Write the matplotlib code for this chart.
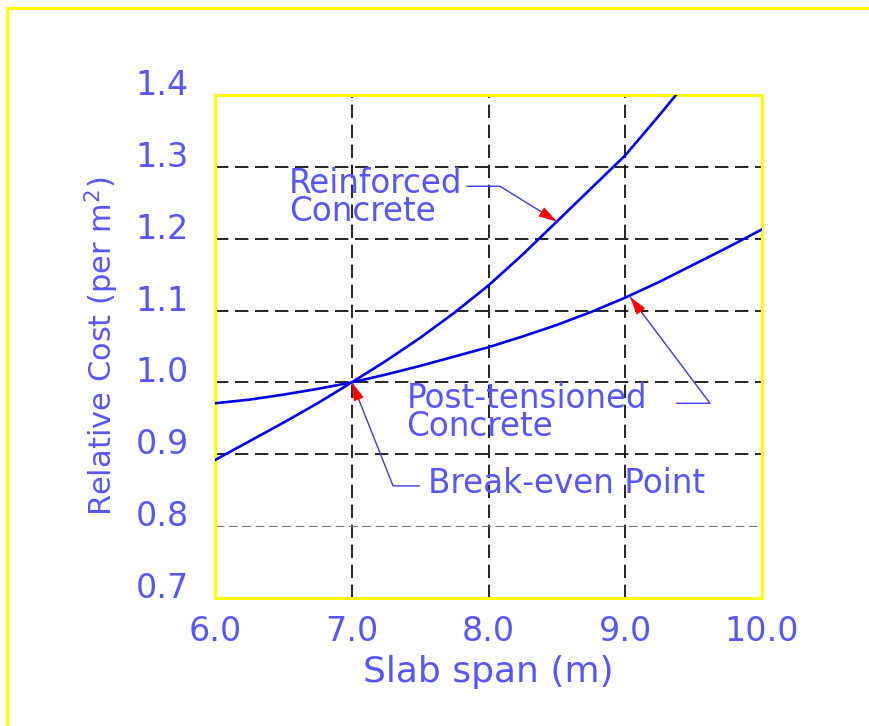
import matplotlib
matplotlib.use("Agg")
import matplotlib.pyplot as plt
from matplotlib.patches import Rectangle
import numpy as np

# ---- data ----
span_rc = [6.0, 6.25, 6.5, 6.75, 7.0, 7.25, 7.5, 7.75, 8.0, 8.25, 8.5, 8.75, 9.0, 9.25, 9.5]
cost_rc = [0.892, 0.918, 0.944, 0.971, 1.000, 1.030, 1.062, 1.097, 1.135, 1.178, 1.224,
           1.270, 1.316, 1.372, 1.430]
span_pt = [6.0, 6.25, 6.5, 6.75, 7.0, 7.25, 7.5, 7.75, 8.0, 8.25, 8.5, 8.75, 9.0, 9.25,
           9.5, 9.75, 10.0]
cost_pt = [0.971, 0.976, 0.983, 0.991, 1.000, 1.011, 1.023, 1.036, 1.049, 1.064, 1.080,
           1.098, 1.118, 1.140, 1.164, 1.188, 1.213]
xticks = [6.0, 7.0, 8.0, 9.0, 10.0]
xtick_labels = ["6.0", "7.0", "8.0", "9.0", "10.0"]
yticks = [0.7, 0.8, 0.9, 1.0, 1.1, 1.2, 1.3, 1.4]
ytick_labels = ["0.7", "0.8", "0.9", "1.0", "1.1", "1.2", "1.3", "1.4"]
xlabel = "Slab span (m)"
ylabel = "Relative Cost (per m$^2$)"
ann_rc_text = "Reinforced\nConcrete"
ann_pt_text = "Post-tensioned\nConcrete"
ann_be_text = "Break-even Point"
# leader paths: tip (on curve) -> elbow -> end near text
lead_rc = [(8.50, 1.224), (8.084, 1.273), (7.843, 1.273)]
lead_pt = [(9.035, 1.119), (9.620, 0.971), (9.378, 0.971)]
lead_be = [(7.002, 1.000), (7.302, 0.856), (7.492, 0.856)]
pos_rc = (6.54, 1.300)
pos_pt = (7.40, 1.000)
pos_be = (7.56, 0.882)

TXT = "#5656ff"
LINE = "#0000f0"

fig = plt.figure(figsize=(8.7, 7.26), dpi=100)
fig.patch.set_facecolor("white")
W, H = 870, 726
# outer yellow frame (open at right/bottom)
fig.add_artist(Rectangle((7 / W, -0.1), 1.2, 1 - 8 / H + 0.1, transform=fig.transFigure,
                         fill=False, edgecolor="#ffff00", lw=2.2))

ax = fig.add_axes([215 / W, 1 - 598 / H, (762 - 215) / W, (598 - 95) / H])
ax.set_xlim(6.0, 10.0)
ax.set_ylim(0.7, 1.4)
for s in ax.spines.values():
    s.set_color("#ffff00")
    s.set_linewidth(2.2)

# grid
for x in xticks[1:-1]:
    ax.axvline(x, color="black", lw=1.2, dashes=(8, 4), zorder=1)
for y in yticks[1:-1]:
    if abs(y - 0.8) < 1e-9:
        ax.axhline(y, color="#777777", lw=0.8, dashes=(8, 4), zorder=1)
    else:
        ax.axhline(y, color="black", lw=1.2, dashes=(8, 4), zorder=1)

ax.plot(span_rc, cost_rc, color=LINE, lw=1.9, zorder=3, solid_joinstyle="round")
ax.plot(span_pt, cost_pt, color=LINE, lw=1.9, zorder=3, solid_joinstyle="round")

ax.set_xticks(xticks)
ax.set_xticklabels(xtick_labels)
ax.set_yticks(yticks)
ax.set_yticklabels(ytick_labels)
ax.tick_params(length=0, labelsize=24, labelcolor=TXT)
ax.tick_params(axis="x", pad=12)
ax.tick_params(axis="y", pad=19)
for lab in ax.get_yticklabels():
    lab.set_va("baseline")

ax.set_xlabel(xlabel, fontsize=26, color=TXT, labelpad=5)
ax.set_ylabel(ylabel, fontsize=22, color=TXT, labelpad=10)

# annotations
for lead, pos, txt in [(lead_rc, pos_rc, ann_rc_text),
                       (lead_pt, pos_pt, ann_pt_text),
                       (lead_be, pos_be, ann_be_text)]:
    xs = [p[0] for p in lead]
    ys = [p[1] for p in lead]
    ax.plot(xs, ys, color="#3a3aff", lw=1.0, zorder=4, clip_on=False)
    # red arrow head at the tip, pointing along the leader
    tip = np.array(ax.transData.transform(lead[0]))
    elb = np.array(ax.transData.transform(lead[1]))
    d = (elb - tip) / np.linalg.norm(elb - tip)
    tail = ax.transData.inverted().transform(tip + d * 22)
    ax.annotate("", xy=lead[0], xytext=tail,
                arrowprops=dict(arrowstyle="-|>,head_length=1.2,head_width=0.35",
                                color="#ff0000", lw=0.5, shrinkA=0, shrinkB=0),
                zorder=5)
    ax.text(pos[0], pos[1], txt, fontsize=23.5, color=TXT, ha="left", va="top",
            linespacing=0.8, zorder=6)

fig.savefig("out.png", dpi=100, facecolor="white")
